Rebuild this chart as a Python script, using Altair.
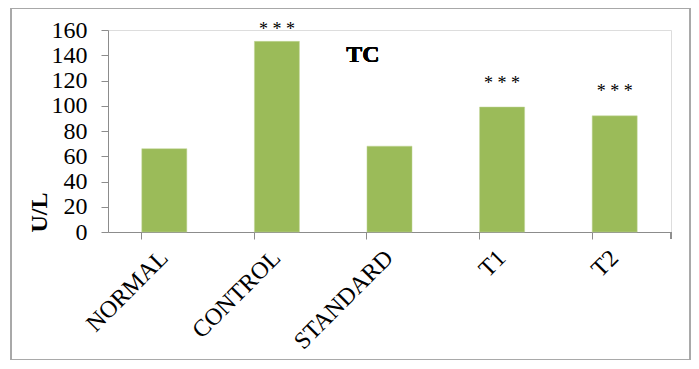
import altair as alt
import pandas as pd

categories = ["NORMAL", "CONTROL", "STANDARD", "T1", "T2"]
values = [66, 151, 68, 99, 92]
stars = ["", "* * *", "", "* * *", "* * *"]
star_pos = [None, 160, None, 117, 111]

df = pd.DataFrame({"group": categories, "value": values, "star": stars, "star_y": star_pos})

W, H = 563, 202
FONT = "Liberation Serif"

yscale = alt.Scale(domain=[0, 160], nice=False)
xscale = alt.Scale(paddingInner=0.6, paddingOuter=0.3)

bars = alt.Chart(df).mark_bar(color="#9BBB59", stroke="#C3D69B", strokeWidth=0.5).encode(
    x=alt.X("group:N", sort=categories, title=None, scale=xscale),
    y=alt.Y("value:Q", title="U/L", scale=yscale),
)

star_text = alt.Chart(df).transform_filter("datum.star != ''").mark_text(
    font=FONT, fontSize=18, color="black", baseline="middle").encode(
    x=alt.X("group:N", sort=categories, title=None, scale=xscale),
    y=alt.Y("star_y:Q", title="U/L", scale=yscale),
    text="star:N",
)

title = alt.Chart(df).mark_text(font=FONT, fontSize=24, fontWeight="bold", color="black",
                                 text="TC", baseline="middle").encode(
    x=alt.value(255), y=alt.value(25))

end_tick = alt.Chart(df).mark_rule(color="#8C8C8C").encode(
    x=alt.value(W), y=alt.value(H), y2=alt.value(H + 7))

border = alt.Chart(df).mark_rect(fill=None, stroke="#A6A6A6", strokeWidth=1).encode(
    x=alt.value(-97), x2=alt.value(582), y=alt.value(-22), y2=alt.value(330))

chart = alt.layer(border, bars, star_text, title, end_tick).properties(
    width=W, height=H,
    padding={"left": 100, "top": 22, "right": 20, "bottom": 128},
    autosize=alt.AutoSizeParams(type="none"),
).configure_view(strokeWidth=0).configure(background="white").configure_axis(
    grid=False, domainColor="#8C8C8C", tickColor="#8C8C8C", labelFont=FONT,
    labelColor="black", labelOverlap=False, titleFont=FONT, titleColor="black",
).configure_axisX(
    labelAngle=-45, labelFontSize=24, tickSize=7, bandPosition=0,
    labelPadding=15, labelAlign="right", labelBaseline="middle",
).configure_axisY(
    tickCount=8, labelFontSize=24, labelFlush=False, tickSize=7, labelPadding=14,
    titleFontSize=24, titleFontWeight="bold", titleAnchor="start", titlePadding=0,
)

chart.save("out.html", embed_options={"renderer": "svg", "actions": False})
